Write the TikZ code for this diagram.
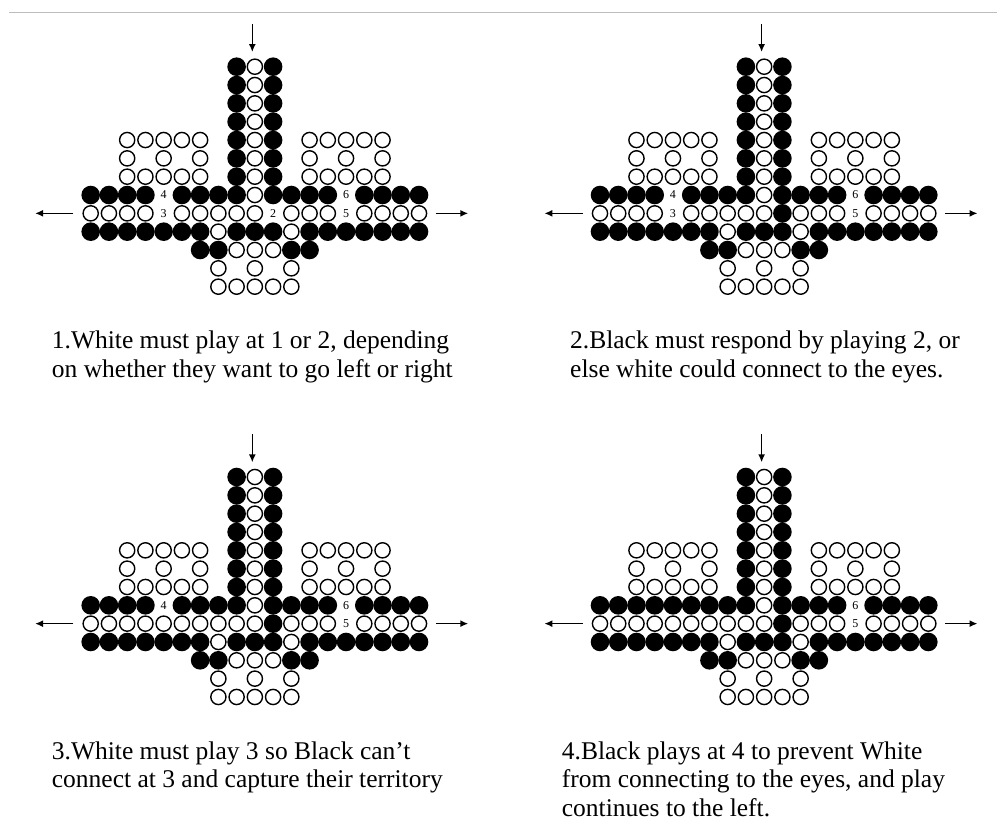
\documentclass[tikz,border=0pt]{standalone}
\usepackage{fontspec}
\setmainfont{Liberation Serif}
\usetikzlibrary{arrows.meta}
\definecolor{rulegray}{HTML}{BDBDBD}

\begin{document}
\begin{tikzpicture}[x=1pt,y=-1pt,
  bstone/.style={circle,fill=black,inner sep=0pt,minimum size=18.6pt},
  wstone/.style={circle,draw=black,fill=white,line width=1.4pt,inner sep=0pt,minimum size=15.2pt},
  movenum/.style={inner sep=0pt,font=\fontsize{12}{12}\selectfont},
  escape/.style={line width=1.5pt,-{Latex[length=8pt,width=7pt]}},
  captext/.style={anchor=base west,align=left,inner sep=0pt,font=\fontsize{25.5}{28.5}\selectfont}]
  \useasboundingbox (0,0) rectangle (997,839);
  \draw[rulegray,line width=1pt] (9,12.3) -- (997,12.3);
  % the same group in all four positions
  \foreach \d/\ox/\oy in {1/90.7/66.7,2/600/66.7,3/90.7/477,4/600/477}{
    \begin{scope}[shift={(\ox,\oy)},x=18.24pt,y=-18.33pt]
      % black stones
      \foreach \c in {8,10} \foreach \r in {0,...,6}
        \node[bstone] (d\d-\c-\r) at (\c,\r) {};
      \foreach \r/\cols in {7/{0,1,2,3,5,6,7,8,10,11,12,13,15,16,17,18},
                            9/{0,1,2,3,4,5,6,8,9,10,12,13,14,15,16,17,18},
                            10/{6,7,11,12}}
        \foreach \c in \cols \node[bstone] (d\d-\c-\r) at (\c,\r) {};
      % white stones
      \foreach \r in {0,...,7}
        \node[wstone] (d\d-9-\r) at (9,\r) {};
      \foreach \r/\cols in {4/{2,3,4,5,6,12,13,14,15,16},
                            5/{2,4,6,12,14,16},
                            6/{2,3,4,5,6,12,13,14,15,16},
                            8/{0,1,2,3,5,6,7,8,9,11,12,13,15,16,17,18},
                            9/{7,11},
                            10/{8,9,10},
                            11/{7,9,11},
                            12/{7,8,9,10,11}}
        \foreach \c in \cols \node[wstone] (d\d-\c-\r) at (\c,\r) {};
      % ways out
      \coordinate (d\d-in) at (8.86,-2.32);
      \coordinate (d\d-down) at (8.86,-0.8);
      \coordinate (d\d-lstart) at (-0.95,8);
      \coordinate (d\d-lend) at (-3.05,8);
      \coordinate (d\d-rstart) at (18.92,8);
      \coordinate (d\d-rend) at (20.7,8);
      \draw[escape] (d\d-in) -- (d\d-down);
      \draw[escape] (d\d-lstart) -- (d\d-lend);
      \draw[escape] (d\d-rstart) -- (d\d-rend);
      \node[movenum] (d\d-six) at (14,7) {6};
      \node[movenum] (d\d-five) at (14,8) {5};
    \end{scope}
  }
  % what changes from one position to the next
  \begin{scope}[shift={(90.7,66.7)},x=18.24pt,y=-18.33pt]
    \node[movenum] (d1-four) at (4,7) {4};
    \node[movenum] (d1-three) at (4,8) {3};
    \node[movenum] (d1-two) at (10,8) {2};
  \end{scope}
  \begin{scope}[shift={(600,66.7)},x=18.24pt,y=-18.33pt]
    \node[movenum] (d2-four) at (4,7) {4};
    \node[movenum] (d2-three) at (4,8) {3};
    \node[bstone] (d2-10-8) at (10,8) {};
  \end{scope}
  \begin{scope}[shift={(90.7,477)},x=18.24pt,y=-18.33pt]
    \node[movenum] (d3-four) at (4,7) {4};
    \node[wstone] (d3-4-8) at (4,8) {};
    \node[bstone] (d3-10-8) at (10,8) {};
  \end{scope}
  \begin{scope}[shift={(600,477)},x=18.24pt,y=-18.33pt]
    \node[bstone] (d4-4-7) at (4,7) {};
    \node[wstone] (d4-4-8) at (4,8) {};
    \node[bstone] (d4-10-8) at (10,8) {};
  \end{scope}
  % captions (base = last line)
  \node[captext] (cap1) at (51.7,377) {1.White must play at 1 or 2, depending\\on whether they want to go left or right};
  \node[captext] (cap2) at (570,377) {2.Black must respond by playing 2, or\\else white could connect to the eyes.};
  \node[captext] (cap3) at (51.7,787.5) {3.White must play 3 so Black can’t\\connect at 3 and capture their territory};
  \node[captext] (cap4) at (561.7,816) {4.Black plays at 4 to prevent White\\from connecting to the eyes, and play\\continues to the left.};
\end{tikzpicture}
\end{document}
